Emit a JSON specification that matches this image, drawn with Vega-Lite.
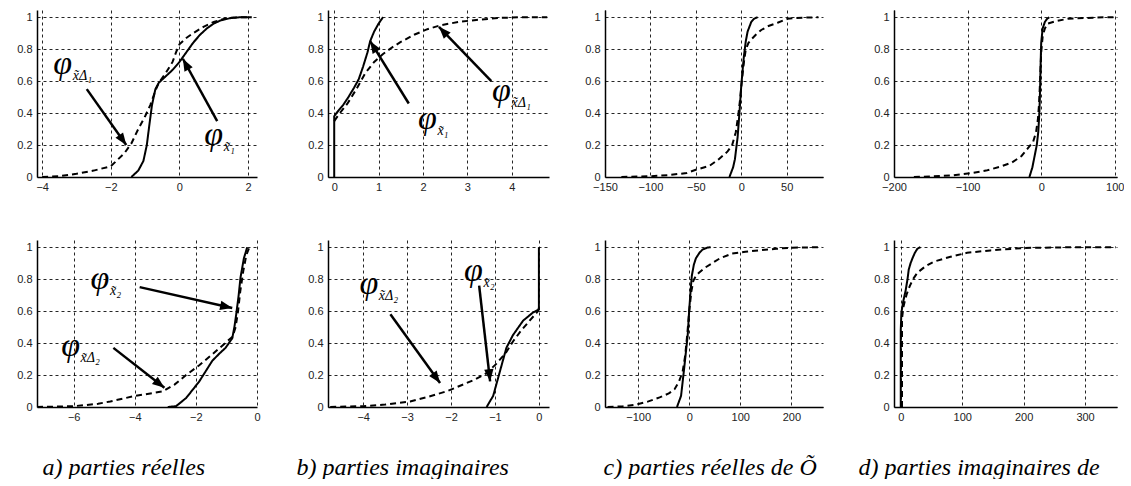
{
"$schema":"https://vega.github.io/schema/vega-lite/v6.json",
"padding":{"left":16,"top":10,"right":0,"bottom":0},
"background":"white",
"datasets":{
"curves":[
{"p":"a1","s":"solid","x":-1.4,"y":0},{"p":"a1","s":"solid","x":-1.2,"y":0.04},{"p":"a1","s":"solid","x":-1.05,"y":0.1},{"p":"a1","s":"solid","x":-0.95,"y":0.2},{"p":"a1","s":"solid","x":-0.88,"y":0.32},{"p":"a1","s":"solid","x":-0.8,"y":0.45},{"p":"a1","s":"solid","x":-0.7,"y":0.55},{"p":"a1","s":"solid","x":-0.6,"y":0.59},{"p":"a1","s":"solid","x":-0.4,"y":0.63},{"p":"a1","s":"solid","x":-0.2,"y":0.67},{"p":"a1","s":"solid","x":0,"y":0.72},{"p":"a1","s":"solid","x":0.2,"y":0.78},{"p":"a1","s":"solid","x":0.4,"y":0.84},{"p":"a1","s":"solid","x":0.6,"y":0.89},{"p":"a1","s":"solid","x":0.8,"y":0.93},{"p":"a1","s":"solid","x":1.0,"y":0.96},{"p":"a1","s":"solid","x":1.2,"y":0.98},{"p":"a1","s":"solid","x":1.5,"y":0.995},{"p":"a1","s":"solid","x":1.8,"y":1},{"p":"a1","s":"solid","x":2.1,"y":1},
{"p":"a1","s":"dashed","x":-4.0,"y":0},{"p":"a1","s":"dashed","x":-3.5,"y":0.005},{"p":"a1","s":"dashed","x":-3.0,"y":0.02},{"p":"a1","s":"dashed","x":-2.5,"y":0.04},{"p":"a1","s":"dashed","x":-2.0,"y":0.067},{"p":"a1","s":"dashed","x":-1.6,"y":0.15},{"p":"a1","s":"dashed","x":-1.4,"y":0.21},{"p":"a1","s":"dashed","x":-1.2,"y":0.3},{"p":"a1","s":"dashed","x":-1.0,"y":0.38},{"p":"a1","s":"dashed","x":-0.85,"y":0.45},{"p":"a1","s":"dashed","x":-0.7,"y":0.54},{"p":"a1","s":"dashed","x":-0.6,"y":0.59},{"p":"a1","s":"dashed","x":-0.4,"y":0.65},{"p":"a1","s":"dashed","x":-0.2,"y":0.72},{"p":"a1","s":"dashed","x":-0.1,"y":0.78},{"p":"a1","s":"dashed","x":0,"y":0.83},{"p":"a1","s":"dashed","x":0.2,"y":0.87},{"p":"a1","s":"dashed","x":0.4,"y":0.9},{"p":"a1","s":"dashed","x":0.7,"y":0.94},{"p":"a1","s":"dashed","x":1.0,"y":0.97},{"p":"a1","s":"dashed","x":1.4,"y":0.995},{"p":"a1","s":"dashed","x":1.8,"y":1},{"p":"a1","s":"dashed","x":2.1,"y":1},
{"p":"b1","s":"solid","x":0,"y":0},{"p":"b1","s":"solid","x":0,"y":0.38},{"p":"b1","s":"solid","x":0.05,"y":0.4},{"p":"b1","s":"solid","x":0.2,"y":0.45},{"p":"b1","s":"solid","x":0.32,"y":0.5},{"p":"b1","s":"solid","x":0.45,"y":0.56},{"p":"b1","s":"solid","x":0.55,"y":0.61},{"p":"b1","s":"solid","x":0.65,"y":0.69},{"p":"b1","s":"solid","x":0.75,"y":0.78},{"p":"b1","s":"solid","x":0.81,"y":0.85},{"p":"b1","s":"solid","x":0.9,"y":0.91},{"p":"b1","s":"solid","x":1.0,"y":0.96},{"p":"b1","s":"solid","x":1.1,"y":1.0},
{"p":"b1","s":"dashed","x":0,"y":0.35},{"p":"b1","s":"dashed","x":0.1,"y":0.39},{"p":"b1","s":"dashed","x":0.3,"y":0.46},{"p":"b1","s":"dashed","x":0.5,"y":0.55},{"p":"b1","s":"dashed","x":0.7,"y":0.65},{"p":"b1","s":"dashed","x":0.9,"y":0.72},{"p":"b1","s":"dashed","x":1.1,"y":0.77},{"p":"b1","s":"dashed","x":1.3,"y":0.81},{"p":"b1","s":"dashed","x":1.5,"y":0.845},{"p":"b1","s":"dashed","x":1.8,"y":0.89},{"p":"b1","s":"dashed","x":2.1,"y":0.925},{"p":"b1","s":"dashed","x":2.4,"y":0.95},{"p":"b1","s":"dashed","x":2.8,"y":0.97},{"p":"b1","s":"dashed","x":3.2,"y":0.983},{"p":"b1","s":"dashed","x":3.7,"y":0.995},{"p":"b1","s":"dashed","x":4.2,"y":1},{"p":"b1","s":"dashed","x":4.8,"y":1},
{"p":"c1","s":"solid","x":-13,"y":0},{"p":"c1","s":"solid","x":-9,"y":0.06},{"p":"c1","s":"solid","x":-7,"y":0.11},{"p":"c1","s":"solid","x":-4,"y":0.25},{"p":"c1","s":"solid","x":-2,"y":0.4},{"p":"c1","s":"solid","x":0,"y":0.57},{"p":"c1","s":"solid","x":2,"y":0.7},{"p":"c1","s":"solid","x":3,"y":0.76},{"p":"c1","s":"solid","x":5,"y":0.85},{"p":"c1","s":"solid","x":7,"y":0.91},{"p":"c1","s":"solid","x":11,"y":0.97},{"p":"c1","s":"solid","x":14,"y":0.99},{"p":"c1","s":"solid","x":18,"y":1},
{"p":"c1","s":"dashed","x":-132,"y":0},{"p":"c1","s":"dashed","x":-100,"y":0.005},{"p":"c1","s":"dashed","x":-80,"y":0.012},{"p":"c1","s":"dashed","x":-60,"y":0.025},{"p":"c1","s":"dashed","x":-50,"y":0.045},{"p":"c1","s":"dashed","x":-35,"y":0.07},{"p":"c1","s":"dashed","x":-25,"y":0.11},{"p":"c1","s":"dashed","x":-15,"y":0.16},{"p":"c1","s":"dashed","x":-10,"y":0.2},{"p":"c1","s":"dashed","x":-6,"y":0.28},{"p":"c1","s":"dashed","x":-3,"y":0.4},{"p":"c1","s":"dashed","x":-1,"y":0.5},{"p":"c1","s":"dashed","x":1,"y":0.62},{"p":"c1","s":"dashed","x":3,"y":0.72},{"p":"c1","s":"dashed","x":5,"y":0.8},{"p":"c1","s":"dashed","x":8,"y":0.84},{"p":"c1","s":"dashed","x":11,"y":0.86},{"p":"c1","s":"dashed","x":16,"y":0.89},{"p":"c1","s":"dashed","x":22,"y":0.92},{"p":"c1","s":"dashed","x":30,"y":0.945},{"p":"c1","s":"dashed","x":40,"y":0.965},{"p":"c1","s":"dashed","x":51,"y":0.99},{"p":"c1","s":"dashed","x":60,"y":0.995},{"p":"c1","s":"dashed","x":85,"y":1},
{"p":"d1","s":"solid","x":-16,"y":0},{"p":"d1","s":"solid","x":-12,"y":0.06},{"p":"d1","s":"solid","x":-9,"y":0.13},{"p":"d1","s":"solid","x":-6,"y":0.2},{"p":"d1","s":"solid","x":-4,"y":0.28},{"p":"d1","s":"solid","x":-2.5,"y":0.4},{"p":"d1","s":"solid","x":-1.5,"y":0.55},{"p":"d1","s":"solid","x":-1,"y":0.67},{"p":"d1","s":"solid","x":0,"y":0.84},{"p":"d1","s":"solid","x":2,"y":0.93},{"p":"d1","s":"solid","x":5,"y":0.97},{"p":"d1","s":"solid","x":8,"y":0.99},{"p":"d1","s":"solid","x":11,"y":1},
{"p":"d1","s":"dashed","x":-173,"y":0},{"p":"d1","s":"dashed","x":-150,"y":0.003},{"p":"d1","s":"dashed","x":-120,"y":0.01},{"p":"d1","s":"dashed","x":-94,"y":0.025},{"p":"d1","s":"dashed","x":-75,"y":0.04},{"p":"d1","s":"dashed","x":-54,"y":0.067},{"p":"d1","s":"dashed","x":-40,"y":0.09},{"p":"d1","s":"dashed","x":-27,"y":0.13},{"p":"d1","s":"dashed","x":-18,"y":0.18},{"p":"d1","s":"dashed","x":-11,"y":0.22},{"p":"d1","s":"dashed","x":-7,"y":0.28},{"p":"d1","s":"dashed","x":-4.5,"y":0.36},{"p":"d1","s":"dashed","x":-3,"y":0.45},{"p":"d1","s":"dashed","x":-1.5,"y":0.6},{"p":"d1","s":"dashed","x":0,"y":0.78},{"p":"d1","s":"dashed","x":2,"y":0.88},{"p":"d1","s":"dashed","x":5,"y":0.93},{"p":"d1","s":"dashed","x":9,"y":0.96},{"p":"d1","s":"dashed","x":20,"y":0.975},{"p":"d1","s":"dashed","x":36,"y":0.99},{"p":"d1","s":"dashed","x":60,"y":0.995},{"p":"d1","s":"dashed","x":90,"y":1},{"p":"d1","s":"dashed","x":100,"y":1},
{"p":"a2","s":"solid","x":-2.92,"y":0},{"p":"a2","s":"solid","x":-2.65,"y":0.005},{"p":"a2","s":"solid","x":-2.32,"y":0.056},{"p":"a2","s":"solid","x":-1.89,"y":0.16},{"p":"a2","s":"solid","x":-1.46,"y":0.29},{"p":"a2","s":"solid","x":-1.2,"y":0.34},{"p":"a2","s":"solid","x":-1.03,"y":0.37},{"p":"a2","s":"solid","x":-0.81,"y":0.43},{"p":"a2","s":"solid","x":-0.74,"y":0.5},{"p":"a2","s":"solid","x":-0.68,"y":0.58},{"p":"a2","s":"solid","x":-0.6,"y":0.7},{"p":"a2","s":"solid","x":-0.54,"y":0.81},{"p":"a2","s":"solid","x":-0.43,"y":0.93},{"p":"a2","s":"solid","x":-0.32,"y":1.0},
{"p":"a2","s":"dashed","x":-7.2,"y":0},{"p":"a2","s":"dashed","x":-6,"y":0.005},{"p":"a2","s":"dashed","x":-5.2,"y":0.02},{"p":"a2","s":"dashed","x":-4.8,"y":0.035},{"p":"a2","s":"dashed","x":-4.05,"y":0.067},{"p":"a2","s":"dashed","x":-3.08,"y":0.098},{"p":"a2","s":"dashed","x":-2.7,"y":0.14},{"p":"a2","s":"dashed","x":-2.32,"y":0.2},{"p":"a2","s":"dashed","x":-1.9,"y":0.26},{"p":"a2","s":"dashed","x":-1.46,"y":0.33},{"p":"a2","s":"dashed","x":-1.1,"y":0.39},{"p":"a2","s":"dashed","x":-0.8,"y":0.44},{"p":"a2","s":"dashed","x":-0.7,"y":0.5},{"p":"a2","s":"dashed","x":-0.62,"y":0.6},{"p":"a2","s":"dashed","x":-0.55,"y":0.72},{"p":"a2","s":"dashed","x":-0.45,"y":0.85},{"p":"a2","s":"dashed","x":-0.35,"y":0.95},{"p":"a2","s":"dashed","x":-0.27,"y":0.99},{"p":"a2","s":"dashed","x":-0.25,"y":1.0},
{"p":"b2","s":"solid","x":-1.19,"y":0},{"p":"b2","s":"solid","x":-1.04,"y":0.07},{"p":"b2","s":"solid","x":-0.89,"y":0.22},{"p":"b2","s":"solid","x":-0.74,"y":0.37},{"p":"b2","s":"solid","x":-0.59,"y":0.45},{"p":"b2","s":"solid","x":-0.36,"y":0.54},{"p":"b2","s":"solid","x":-0.14,"y":0.59},{"p":"b2","s":"solid","x":0,"y":0.61},{"p":"b2","s":"solid","x":0,"y":1.0},
{"p":"b2","s":"dashed","x":-4.75,"y":0},{"p":"b2","s":"dashed","x":-4,"y":0.005},{"p":"b2","s":"dashed","x":-3.5,"y":0.015},{"p":"b2","s":"dashed","x":-2.93,"y":0.035},{"p":"b2","s":"dashed","x":-2.5,"y":0.065},{"p":"b2","s":"dashed","x":-2.08,"y":0.1},{"p":"b2","s":"dashed","x":-1.47,"y":0.17},{"p":"b2","s":"dashed","x":-1.2,"y":0.21},{"p":"b2","s":"dashed","x":-0.97,"y":0.27},{"p":"b2","s":"dashed","x":-0.75,"y":0.34},{"p":"b2","s":"dashed","x":-0.59,"y":0.41},{"p":"b2","s":"dashed","x":-0.4,"y":0.48},{"p":"b2","s":"dashed","x":-0.21,"y":0.54},{"p":"b2","s":"dashed","x":-0.02,"y":0.6},{"p":"b2","s":"dashed","x":0,"y":0.62},
{"p":"c2","s":"solid","x":-24,"y":0},{"p":"c2","s":"solid","x":-16,"y":0.07},{"p":"c2","s":"solid","x":-10,"y":0.24},{"p":"c2","s":"solid","x":-6,"y":0.36},{"p":"c2","s":"solid","x":-3,"y":0.45},{"p":"c2","s":"solid","x":0,"y":0.61},{"p":"c2","s":"solid","x":3,"y":0.74},{"p":"c2","s":"solid","x":5,"y":0.82},{"p":"c2","s":"solid","x":9,"y":0.89},{"p":"c2","s":"solid","x":13,"y":0.93},{"p":"c2","s":"solid","x":20,"y":0.965},{"p":"c2","s":"solid","x":26,"y":0.985},{"p":"c2","s":"solid","x":35,"y":0.997},{"p":"c2","s":"solid","x":42,"y":1},
{"p":"c2","s":"dashed","x":-160,"y":0},{"p":"c2","s":"dashed","x":-130,"y":0.005},{"p":"c2","s":"dashed","x":-104,"y":0.015},{"p":"c2","s":"dashed","x":-80,"y":0.035},{"p":"c2","s":"dashed","x":-58,"y":0.06},{"p":"c2","s":"dashed","x":-40,"y":0.085},{"p":"c2","s":"dashed","x":-29,"y":0.11},{"p":"c2","s":"dashed","x":-20,"y":0.16},{"p":"c2","s":"dashed","x":-13,"y":0.22},{"p":"c2","s":"dashed","x":-8,"y":0.32},{"p":"c2","s":"dashed","x":-4,"y":0.45},{"p":"c2","s":"dashed","x":0,"y":0.6},{"p":"c2","s":"dashed","x":4,"y":0.72},{"p":"c2","s":"dashed","x":8,"y":0.79},{"p":"c2","s":"dashed","x":13,"y":0.82},{"p":"c2","s":"dashed","x":19,"y":0.84},{"p":"c2","s":"dashed","x":30,"y":0.87},{"p":"c2","s":"dashed","x":45,"y":0.9},{"p":"c2","s":"dashed","x":60,"y":0.93},{"p":"c2","s":"dashed","x":84,"y":0.96},{"p":"c2","s":"dashed","x":110,"y":0.972},{"p":"c2","s":"dashed","x":135,"y":0.98},{"p":"c2","s":"dashed","x":170,"y":0.99},{"p":"c2","s":"dashed","x":200,"y":0.997},{"p":"c2","s":"dashed","x":260,"y":1},
{"p":"d2","s":"solid","x":0,"y":0},{"p":"d2","s":"solid","x":0,"y":0.48},{"p":"d2","s":"solid","x":1,"y":0.59},{"p":"d2","s":"solid","x":4,"y":0.66},{"p":"d2","s":"solid","x":8,"y":0.73},{"p":"d2","s":"solid","x":11,"y":0.8},{"p":"d2","s":"solid","x":13,"y":0.86},{"p":"d2","s":"solid","x":16,"y":0.9},{"p":"d2","s":"solid","x":19,"y":0.93},{"p":"d2","s":"solid","x":23,"y":0.965},{"p":"d2","s":"solid","x":27,"y":0.99},{"p":"d2","s":"solid","x":32,"y":1},
{"p":"d2","s":"dashed","x":2,"y":0},{"p":"d2","s":"dashed","x":2,"y":0.55},{"p":"d2","s":"dashed","x":4,"y":0.62},{"p":"d2","s":"dashed","x":7,"y":0.67},{"p":"d2","s":"dashed","x":10,"y":0.71},{"p":"d2","s":"dashed","x":15,"y":0.76},{"p":"d2","s":"dashed","x":20,"y":0.8},{"p":"d2","s":"dashed","x":27,"y":0.84},{"p":"d2","s":"dashed","x":40,"y":0.88},{"p":"d2","s":"dashed","x":54,"y":0.91},{"p":"d2","s":"dashed","x":81,"y":0.94},{"p":"d2","s":"dashed","x":108,"y":0.965},{"p":"d2","s":"dashed","x":146,"y":0.98},{"p":"d2","s":"dashed","x":200,"y":0.995},{"p":"d2","s":"dashed","x":281,"y":1},{"p":"d2","s":"dashed","x":350,"y":1}
],
"labels":[
{"p":"a1","x":-3.4,"y":0.71,"sub":"x̃Δ₁"},
{"p":"a1","x":1.0,"y":0.26,"sub":"x̃₁"},
{"p":"b1","x":2.1,"y":0.36,"sub":"x̃₁"},
{"p":"b1","x":3.77,"y":0.54,"sub":"x̃Δ₁"},
{"p":"a2","x":-5.14,"y":0.8,"sub":"x̃₂"},
{"p":"a2","x":-6.1,"y":0.38,"sub":"x̃Δ₂"},
{"p":"b2","x":-3.87,"y":0.77,"sub":"x̃Δ₂"},
{"p":"b2","x":-1.49,"y":0.85,"sub":"x̃₂"}
],
"arrows":[
{"p":"a1","x":-2.7,"y":0.55,"x2":-1.55,"y2":0.2,"a":145},
{"p":"a1","x":1.1,"y":0.35,"x2":0.1,"y2":0.74,"a":-28},
{"p":"b1","x":1.68,"y":0.46,"x2":0.81,"y2":0.85,"a":-32},
{"p":"b1","x":3.54,"y":0.6,"x2":2.36,"y2":0.94,"a":-43},
{"p":"a2","x":-3.84,"y":0.75,"x2":-0.81,"y2":0.62,"a":102},
{"p":"a2","x":-4.7,"y":0.37,"x2":-3.03,"y2":0.12,"a":128},
{"p":"b2","x":-3.38,"y":0.58,"x2":-2.25,"y2":0.15,"a":144},
{"p":"b2","x":-1.36,"y":0.76,"x2":-1.11,"y2":0.16,"a":174}
]
},
"hconcat":[
 {"vconcat":[
  {"width":220,"height":167,"layer":[
   {"data":{"name":"curves"},"transform":[{"filter":"datum.p==='a1'"}],"mark":{"type":"line","color":"#000","strokeWidth":2,"clip":true},
    "encoding":{"x":{"field":"x","type":"quantitative","scale":{"domain":[-4.15,2.26],"nice":false,"zero":false},"axis":{"values":[-4,-2,0,2],"tickCount":12,"format":"~g","title":null}},
     "y":{"field":"y","type":"quantitative","scale":{"domain":[0,1.045],"nice":false,"zero":false},"axis":{"values":[0,0.2,0.4,0.6,0.8,1],"tickCount":12,"format":"~g","title":null}},
     "strokeDash":{"field":"s","type":"nominal","scale":{"domain":["solid","dashed"],"range":[[1,0],[6,4]]},"legend":null},
     "order":{"value":null}}},
   {"data":{"name":"arrows"},"transform":[{"filter":"datum.p==='a1'"}],"mark":{"type":"rule","color":"#000","strokeWidth":2.5},
    "encoding":{"x":{"field":"x","type":"quantitative"},"y":{"field":"y","type":"quantitative"},"x2":{"field":"x2"},"y2":{"field":"y2"}}},
   {"data":{"name":"arrows"},"transform":[{"filter":"datum.p==='a1'"}],"mark":{"type":"point","shape":"M0,0L-0.5,1.3L0.5,1.3Z","filled":true,"color":"#000","opacity":1,"size":350},
    "encoding":{"x":{"field":"x2","type":"quantitative"},"y":{"field":"y2","type":"quantitative"},"angle":{"field":"a","type":"quantitative","scale":null}}},
   {"data":{"name":"labels"},"transform":[{"filter":"datum.p==='a1'"}],"mark":{"type":"text","text":"φ","font":"Liberation Serif","fontStyle":"italic","fontSize":34,"color":"#000"},
    "encoding":{"x":{"field":"x","type":"quantitative"},"y":{"field":"y","type":"quantitative"}}},
   {"data":{"name":"labels"},"transform":[{"filter":"datum.p==='a1'"}],"mark":{"type":"text","font":"Liberation Serif","fontStyle":"italic","fontSize":14,"align":"left","dx":10,"dy":12,"color":"#000"},
    "encoding":{"x":{"field":"x","type":"quantitative"},"y":{"field":"y","type":"quantitative"},"text":{"field":"sub"}}}
  ]},
  {"width":220,"height":167,"layer":[
   {"data":{"name":"curves"},"transform":[{"filter":"datum.p==='a2'"}],"mark":{"type":"line","color":"#000","strokeWidth":2,"clip":true},
    "encoding":{"x":{"field":"x","type":"quantitative","scale":{"domain":[-7.2,0],"nice":false,"zero":false},"axis":{"values":[-6,-4,-2,0],"tickCount":12,"format":"~g","title":"a) parties réelles","titleX":5,"titleY":67,"titleAlign":"left","titleBaseline":"alphabetic"}},
     "y":{"field":"y","type":"quantitative","scale":{"domain":[0,1.045],"nice":false,"zero":false},"axis":{"values":[0,0.2,0.4,0.6,0.8,1],"tickCount":12,"format":"~g","title":null}},
     "strokeDash":{"field":"s","type":"nominal","scale":{"domain":["solid","dashed"],"range":[[1,0],[6,4]]},"legend":null},
     "order":{"value":null}}},
   {"data":{"name":"arrows"},"transform":[{"filter":"datum.p==='a2'"}],"mark":{"type":"rule","color":"#000","strokeWidth":2.5},
    "encoding":{"x":{"field":"x","type":"quantitative"},"y":{"field":"y","type":"quantitative"},"x2":{"field":"x2"},"y2":{"field":"y2"}}},
   {"data":{"name":"arrows"},"transform":[{"filter":"datum.p==='a2'"}],"mark":{"type":"point","shape":"M0,0L-0.5,1.3L0.5,1.3Z","filled":true,"color":"#000","opacity":1,"size":350},
    "encoding":{"x":{"field":"x2","type":"quantitative"},"y":{"field":"y2","type":"quantitative"},"angle":{"field":"a","type":"quantitative","scale":null}}},
   {"data":{"name":"labels"},"transform":[{"filter":"datum.p==='a2'"}],"mark":{"type":"text","text":"φ","font":"Liberation Serif","fontStyle":"italic","fontSize":34,"color":"#000"},
    "encoding":{"x":{"field":"x","type":"quantitative"},"y":{"field":"y","type":"quantitative"}}},
   {"data":{"name":"labels"},"transform":[{"filter":"datum.p==='a2'"}],"mark":{"type":"text","font":"Liberation Serif","fontStyle":"italic","fontSize":14,"align":"left","dx":10,"dy":12,"color":"#000"},
    "encoding":{"x":{"field":"x","type":"quantitative"},"y":{"field":"y","type":"quantitative"},"text":{"field":"sub"}}}
  ]}
 ],"spacing":63,"bounds":"flush","resolve":{"scale":{"x":"independent","y":"independent"}}},
 {"vconcat":[
  {"width":221,"height":167,"layer":[
   {"data":{"name":"curves"},"transform":[{"filter":"datum.p==='b1'"}],"mark":{"type":"line","color":"#000","strokeWidth":2,"clip":true},
    "encoding":{"x":{"field":"x","type":"quantitative","scale":{"domain":[-0.14,4.84],"nice":false,"zero":false},"axis":{"values":[0,1,2,3,4],"tickCount":12,"format":"~g","title":null}},
     "y":{"field":"y","type":"quantitative","scale":{"domain":[0,1.045],"nice":false,"zero":false},"axis":{"values":[0,0.2,0.4,0.6,0.8,1],"tickCount":12,"format":"~g","title":null}},
     "strokeDash":{"field":"s","type":"nominal","scale":{"domain":["solid","dashed"],"range":[[1,0],[6,4]]},"legend":null},
     "order":{"value":null}}},
   {"data":{"name":"arrows"},"transform":[{"filter":"datum.p==='b1'"}],"mark":{"type":"rule","color":"#000","strokeWidth":2.5},
    "encoding":{"x":{"field":"x","type":"quantitative"},"y":{"field":"y","type":"quantitative"},"x2":{"field":"x2"},"y2":{"field":"y2"}}},
   {"data":{"name":"arrows"},"transform":[{"filter":"datum.p==='b1'"}],"mark":{"type":"point","shape":"M0,0L-0.5,1.3L0.5,1.3Z","filled":true,"color":"#000","opacity":1,"size":350},
    "encoding":{"x":{"field":"x2","type":"quantitative"},"y":{"field":"y2","type":"quantitative"},"angle":{"field":"a","type":"quantitative","scale":null}}},
   {"data":{"name":"labels"},"transform":[{"filter":"datum.p==='b1'"}],"mark":{"type":"text","text":"φ","font":"Liberation Serif","fontStyle":"italic","fontSize":34,"color":"#000"},
    "encoding":{"x":{"field":"x","type":"quantitative"},"y":{"field":"y","type":"quantitative"}}},
   {"data":{"name":"labels"},"transform":[{"filter":"datum.p==='b1'"}],"mark":{"type":"text","font":"Liberation Serif","fontStyle":"italic","fontSize":14,"align":"left","dx":10,"dy":12,"color":"#000"},
    "encoding":{"x":{"field":"x","type":"quantitative"},"y":{"field":"y","type":"quantitative"},"text":{"field":"sub"}}}
  ]},
  {"width":221,"height":167,"layer":[
   {"data":{"name":"curves"},"transform":[{"filter":"datum.p==='b2'"}],"mark":{"type":"line","color":"#000","strokeWidth":2,"clip":true},
    "encoding":{"x":{"field":"x","type":"quantitative","scale":{"domain":[-4.8,0.23],"nice":false,"zero":false},"axis":{"values":[-4,-3,-2,-1,0],"tickCount":12,"format":"~g","title":"b) parties imaginaires","titleX":-32,"titleY":67,"titleAlign":"left","titleBaseline":"alphabetic"}},
     "y":{"field":"y","type":"quantitative","scale":{"domain":[0,1.045],"nice":false,"zero":false},"axis":{"values":[0,0.2,0.4,0.6,0.8,1],"tickCount":12,"format":"~g","title":null}},
     "strokeDash":{"field":"s","type":"nominal","scale":{"domain":["solid","dashed"],"range":[[1,0],[6,4]]},"legend":null},
     "order":{"value":null}}},
   {"data":{"name":"arrows"},"transform":[{"filter":"datum.p==='b2'"}],"mark":{"type":"rule","color":"#000","strokeWidth":2.5},
    "encoding":{"x":{"field":"x","type":"quantitative"},"y":{"field":"y","type":"quantitative"},"x2":{"field":"x2"},"y2":{"field":"y2"}}},
   {"data":{"name":"arrows"},"transform":[{"filter":"datum.p==='b2'"}],"mark":{"type":"point","shape":"M0,0L-0.5,1.3L0.5,1.3Z","filled":true,"color":"#000","opacity":1,"size":350},
    "encoding":{"x":{"field":"x2","type":"quantitative"},"y":{"field":"y2","type":"quantitative"},"angle":{"field":"a","type":"quantitative","scale":null}}},
   {"data":{"name":"labels"},"transform":[{"filter":"datum.p==='b2'"}],"mark":{"type":"text","text":"φ","font":"Liberation Serif","fontStyle":"italic","fontSize":34,"color":"#000"},
    "encoding":{"x":{"field":"x","type":"quantitative"},"y":{"field":"y","type":"quantitative"}}},
   {"data":{"name":"labels"},"transform":[{"filter":"datum.p==='b2'"}],"mark":{"type":"text","font":"Liberation Serif","fontStyle":"italic","fontSize":14,"align":"left","dx":10,"dy":12,"color":"#000"},
    "encoding":{"x":{"field":"x","type":"quantitative"},"y":{"field":"y","type":"quantitative"},"text":{"field":"sub"}}}
  ]}
 ],"spacing":63,"bounds":"flush","resolve":{"scale":{"x":"independent","y":"independent"}}},
 {"vconcat":[
  {"width":218,"height":167,"layer":[
   {"data":{"name":"curves"},"transform":[{"filter":"datum.p==='c1'"}],"mark":{"type":"line","color":"#000","strokeWidth":2,"clip":true},
    "encoding":{"x":{"field":"x","type":"quantitative","scale":{"domain":[-150,90],"nice":false,"zero":false},"axis":{"values":[-150,-100,-50,0,50],"tickCount":12,"format":"d","title":null}},
     "y":{"field":"y","type":"quantitative","scale":{"domain":[0,1.045],"nice":false,"zero":false},"axis":{"values":[0,0.2,0.4,0.6,0.8,1],"tickCount":12,"format":"~g","title":null}},
     "strokeDash":{"field":"s","type":"nominal","scale":{"domain":["solid","dashed"],"range":[[1,0],[6,4]]},"legend":null},
     "order":{"value":null}}}
  ]},
  {"width":218,"height":167,"layer":[
   {"data":{"name":"curves"},"transform":[{"filter":"datum.p==='c2'"}],"mark":{"type":"line","color":"#000","strokeWidth":2,"clip":true},
    "encoding":{"x":{"field":"x","type":"quantitative","scale":{"domain":[-165,262],"nice":false,"zero":false},"axis":{"values":[-100,0,100,200],"tickCount":12,"format":"d","title":"c) parties réelles de Õ","titleX":-2,"titleY":67,"titleAlign":"left","titleBaseline":"alphabetic"}},
     "y":{"field":"y","type":"quantitative","scale":{"domain":[0,1.045],"nice":false,"zero":false},"axis":{"values":[0,0.2,0.4,0.6,0.8,1],"tickCount":12,"format":"~g","title":null}},
     "strokeDash":{"field":"s","type":"nominal","scale":{"domain":["solid","dashed"],"range":[[1,0],[6,4]]},"legend":null},
     "order":{"value":null}}}
  ]}
 ],"spacing":63,"bounds":"flush","resolve":{"scale":{"x":"independent","y":"independent"}}},
 {"vconcat":[
  {"width":223,"height":167,"layer":[
   {"data":{"name":"curves"},"transform":[{"filter":"datum.p==='d1'"}],"mark":{"type":"line","color":"#000","strokeWidth":2,"clip":true},
    "encoding":{"x":{"field":"x","type":"quantitative","scale":{"domain":[-200,103],"nice":false,"zero":false},"axis":{"values":[-200,-100,0,100],"tickCount":12,"format":"d","title":null}},
     "y":{"field":"y","type":"quantitative","scale":{"domain":[0,1.045],"nice":false,"zero":false},"axis":{"values":[0,0.2,0.4,0.6,0.8,1],"tickCount":12,"format":"~g","title":null}},
     "strokeDash":{"field":"s","type":"nominal","scale":{"domain":["solid","dashed"],"range":[[1,0],[6,4]]},"legend":null},
     "order":{"value":null}}}
  ]},
  {"width":223,"height":167,"layer":[
   {"data":{"name":"curves"},"transform":[{"filter":"datum.p==='d2'"}],"mark":{"type":"line","color":"#000","strokeWidth":2,"clip":true},
    "encoding":{"x":{"field":"x","type":"quantitative","scale":{"domain":[-11,352],"nice":false,"zero":false},"axis":{"values":[0,100,200,300],"tickCount":12,"format":"d","title":"d) parties imaginaires de","titleX":-36,"titleY":67,"titleAlign":"left","titleBaseline":"alphabetic"}},
     "y":{"field":"y","type":"quantitative","scale":{"domain":[0,1.045],"nice":false,"zero":false},"axis":{"values":[0,0.2,0.4,0.6,0.8,1],"tickCount":12,"format":"~g","title":null}},
     "strokeDash":{"field":"s","type":"nominal","scale":{"domain":["solid","dashed"],"range":[[1,0],[6,4]]},"legend":null},
     "order":{"value":null}}}
  ]}
 ],"spacing":63,"bounds":"flush","resolve":{"scale":{"x":"independent","y":"independent"}}}
],
"spacing":35,
"resolve":{"scale":{"x":"independent","y":"independent","strokeDash":"shared"}},
"config":{
 "view":{"stroke":null},
 "axis":{"grid":true,"gridColor":"#000","gridDash":[3,3],"gridWidth":1,"gridOpacity":0.85,"domainColor":"#000","domainWidth":1.5,"ticks":false,"labelFont":"Liberation Sans","labelFontSize":11,"labelColor":"#222","labelPadding":4,"labelFlush":false,"labelOverlap":false,"titleFont":"Liberation Serif","titleFontStyle":"italic","titleFontWeight":"normal","titleFontSize":24,"titleColor":"#000"},
 "axisY":{"labelPadding":5,"labelOverlap":false}
}
}
